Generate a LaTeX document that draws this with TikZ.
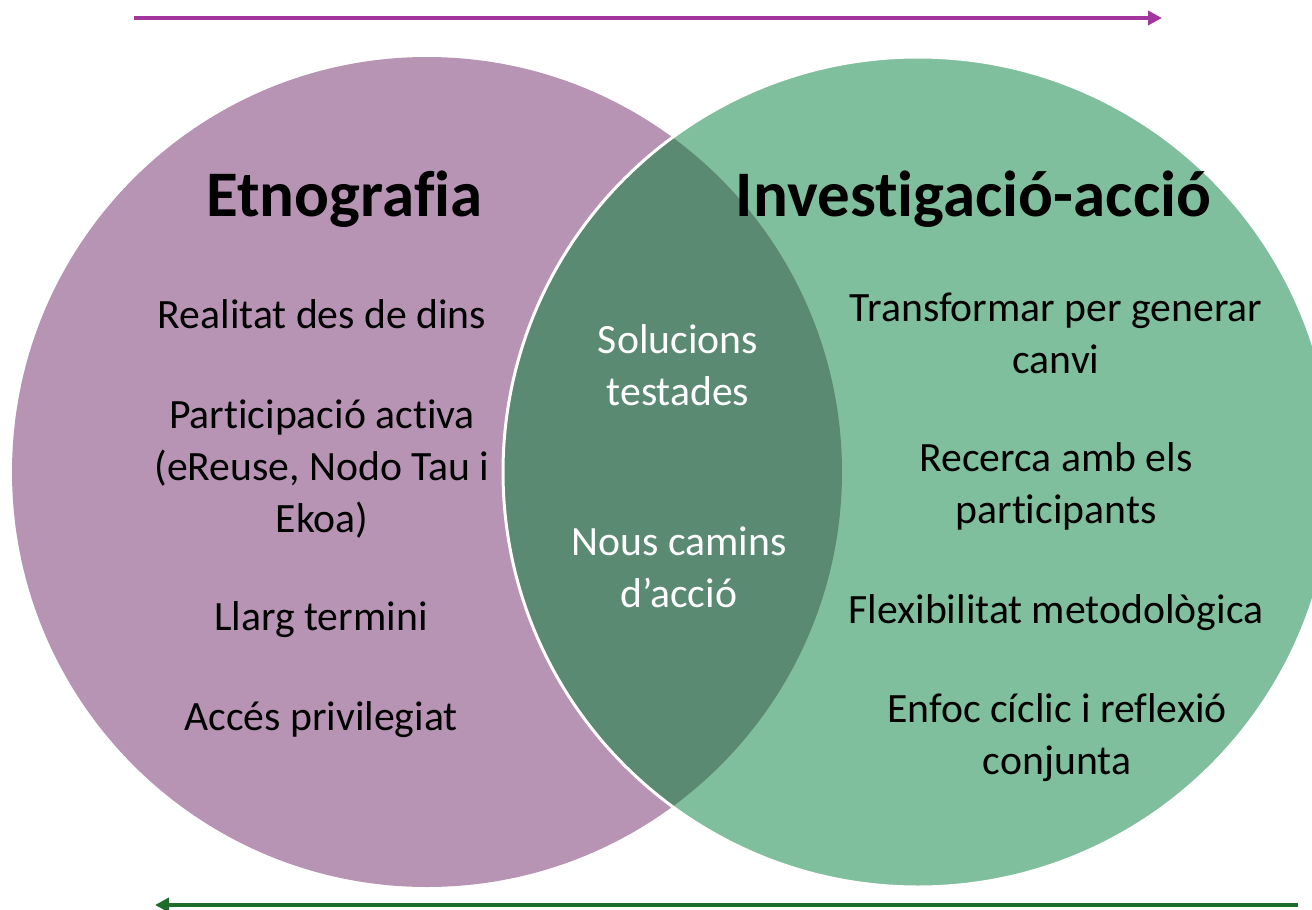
\documentclass[tikz,border=0pt]{standalone}
\usepackage{fontspec}
\setmainfont[Ligatures={NoCommon}]{Carlito}
\usetikzlibrary{arrows.meta}
\definecolor{etnoC}{HTML}{B794B4}
\definecolor{iaC}{HTML}{80BF9D}
\definecolor{bothC}{HTML}{5B8A72}
\definecolor{arrP}{HTML}{A2369D}
\definecolor{arrG}{HTML}{1F6D2B}
\tikzset{
  item/.style={align=center, inner sep=0pt, anchor=base, font=\fontsize{41.7}{52}\selectfont},
  title/.style={inner sep=0pt, anchor=base, font=\fontsize{65}{78}\selectfont\bfseries},
  flow/.style={line width=4pt, -{Triangle[length=14pt,width=14pt]}}
}
\begin{document}
\begin{tikzpicture}[x=1pt,y=-1pt]
\useasboundingbox (0,0) rectangle (1312,910);
\coordinate (cl) at (427,472);
\coordinate (cr) at (918,472);
\fill[etnoC] (cl) circle[radius=415];
\fill[iaC] (cr) circle[radius=415];
\begin{scope}
  \clip (cl) circle[radius=415];
  \fill[bothC] (cr) circle[radius=415];
\end{scope}
\draw[white, line width=3pt] (cr) circle[radius=415];

\coordinate (ta) at (134,18);
\coordinate (tb) at (1162,18);
\draw[flow, arrP] (ta) -- (tb);
\coordinate (ba) at (1298,905);
\coordinate (bb) at (155,905);
\draw[flow, arrG] (ba) -- (bb);

\node[title] (t1) at (344.5,216) {Etnografia};
\node[title] (t2) at (973.5,216) {Investigació-acció};

% multi-line nodes: base anchor = baseline of last line
\node[item] (l1) at (322,328) {Realitat des de dins};
\node[item] (l2) at (322,532) {Participació activa\\(eReuse, Nodo Tau i\\Ekoa)};
\node[item] (l3) at (321,630) {Llarg termini};
\node[item] (l4) at (321,730) {Accés privilegiat};

\node[item, text=white] (m1) at (678,405) {Solucions\\testades};
\node[item, text=white] (m2) at (679,607) {Nous camins\\d’acció};

\node[item] (r1) at (1056,373) {Transformar per generar\\canvi};
\node[item] (r2) at (1056,523) {Recerca amb els\\participants};
\node[item] (r3) at (1056,623) {Flexibilitat metodològica};
\node[item] (r4) at (1057,774) {Enfoc cíclic i reflexió\\conjunta};
\end{tikzpicture}
\end{document}
